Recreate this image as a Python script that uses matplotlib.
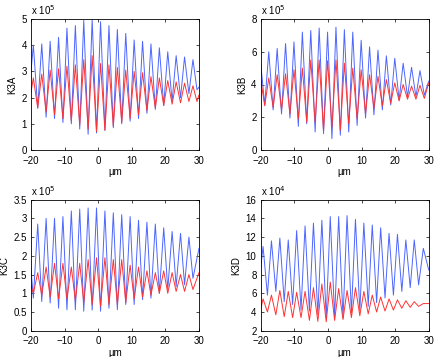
import numpy as np
import matplotlib.pyplot as plt

plt.rcParams['font.family'] = ['Liberation Sans', 'DejaVu Sans']
plt.rcParams['font.size'] = 7

# ---- extrema (x in um, y in units of 10^exp) ----
# K3A  (x 10^5)
a_peak_x = [-19.3, -16.8, -14.3, -11.8, -9.3, -6.8, -4.3, -1.8, 0.7, 3.2,
            5.7, 8.2, 10.7, 13.2, 15.7, 18.2, 20.7, 23.2, 25.7, 28.2]
a_trough_x = [-18.0, -15.5, -13.0, -10.5, -8.0, -5.5, -3.0, -0.5, 2.0, 4.5,
              7.0, 9.5, 12.0, 14.5, 17.0, 19.5, 22.0, 24.5, 27.0, 29.4]
a_blue_peak = [4.0, 4.05, 4.15, 4.3, 4.65, 4.75, 4.95, 4.98, 4.9, 4.75,
               4.6, 4.45, 4.2, 4.15, 4.05, 3.9, 3.75, 3.6, 3.55, 3.45]
a_blue_trough = [1.6, 1.25, 1.2, 1.05, 1.0, 0.8, 0.6, 0.65, 0.75, 0.85,
                 1.0, 1.1, 1.2, 1.4, 1.55, 1.7, 1.85, 2.0, 2.15, 2.3]
a_red_peak = [2.75, 2.9, 3.05, 3.1, 3.2, 3.25, 3.45, 3.6, 3.3, 3.25,
              3.15, 3.05, 3.0, 2.95, 2.8, 2.75, 2.65, 2.6, 2.55, 2.45]
a_red_trough = [1.6, 1.45, 1.35, 1.2, 1.1, 0.95, 0.8, 0.7, 0.75, 0.9,
                1.05, 1.2, 1.35, 1.5, 1.6, 1.7, 1.75, 1.8, 1.85, 1.85]
a_ends = {'blue': (3.0, 2.4), 'red': (2.2, 2.1)}

# K3B  (x 10^5)
b_peak_x = [-17.6, -15.1, -12.6, -10.1, -7.6, -5.1, -2.6, -0.1, 2.4, 4.9,
            7.4, 9.9, 12.4, 14.9, 17.4, 19.9, 22.4, 24.9, 27.4]
b_trough_x = [-18.8, -16.3, -13.8, -11.3, -8.8, -6.3, -3.8, -1.3, 1.2, 3.7,
              6.2, 8.7, 11.2, 13.7, 16.2, 18.7, 21.2, 23.7, 26.2, 28.7]
b_blue_peak = [6.0, 6.2, 6.5, 6.6, 7.2, 7.3, 7.45, 7.2, 7.5, 7.35,
               7.2, 6.7, 6.3, 6.1, 5.75, 5.6, 5.3, 5.05, 4.85]
b_blue_trough = [2.75, 2.45, 2.2, 1.95, 1.45, 1.6, 1.1, 1.0, 0.7, 0.9,
                 1.1, 1.5, 1.95, 2.15, 2.45, 2.75, 3.05, 3.25, 3.25, 3.35]
b_red_peak = [4.4, 4.6, 4.65, 4.9, 5.0, 5.5, 5.5, 5.45, 5.5, 5.3,
              5.0, 4.9, 4.6, 4.5, 4.3, 4.1, 4.0, 3.9, 3.95]
b_red_trough = [2.7, 2.6, 2.45, 2.2, 1.9, 1.7, 1.7, 1.15, 1.4, 1.2,
                1.6, 1.9, 2.2, 2.55, 2.7, 2.85, 3.0, 3.1, 3.1, 3.15]
b_ends = {'blue': (5.3, 4.2), 'red': (4.3, 4.1)}

# K3C  (x 10^5)
c_peak_x = [-18.0, -15.5, -13.0, -10.5, -8.0, -5.5, -3.0, -0.5, 2.0, 4.5,
            7.0, 9.5, 12.0, 14.5, 17.0, 19.5, 22.0, 24.5, 27.0]
c_trough_x = [-19.3, -16.8, -14.3, -11.8, -9.3, -6.8, -4.3, -1.8, 0.7, 3.2,
              5.7, 8.2, 10.7, 13.2, 15.7, 18.2, 20.7, 23.2, 25.7, 28.2]
c_blue_peak = [2.85, 3.0, 3.0, 3.05, 3.2, 3.25, 3.28, 3.28, 3.2, 3.15,
               3.1, 3.05, 2.95, 2.9, 2.85, 2.75, 2.65, 2.6, 2.5]
c_blue_trough = [0.87, 0.78, 0.74, 0.6, 0.56, 0.56, 0.52, 0.55, 0.52, 0.6,
                 0.56, 0.7, 0.7, 0.83, 0.87, 1.0, 1.1, 1.18, 1.23, 1.4]
c_red_peak = [1.55, 1.7, 1.8, 1.8, 1.7, 1.8, 1.9, 1.95, 1.95, 1.9,
              1.9, 1.75, 1.7, 1.6, 1.55, 1.6, 1.55, 1.5, 1.5]
c_red_trough = [1.0, 0.95, 0.9, 0.85, 0.85, 0.8, 0.75, 0.7, 0.65, 0.7,
                0.7, 0.75, 0.85, 0.9, 0.95, 1.0, 1.0, 1.05, 1.05, 1.1]
c_ends = {'blue': (1.65, 2.2), 'red': (1.2, 1.55)}

# K3D  (x 10^4)
d_peak_x = [-19.3, -16.8, -14.3, -11.8, -9.3, -6.8, -4.3, -1.8, 0.7, 3.2,
            5.7, 8.2, 10.7, 13.2, 15.7, 18.2, 20.7, 23.2, 25.7, 28.4]
d_trough_x = [-18.0, -15.5, -13.0, -10.5, -8.0, -5.5, -3.0, -0.5, 2.0, 4.5,
              7.0, 9.5, 12.0, 14.5, 17.0, 19.5, 22.0, 24.5, 27.0]
d_blue_peak = [11.0, 11.6, 11.9, 11.7, 12.7, 13.2, 13.5, 13.8, 14.2, 14.2,
               14.3, 13.9, 13.5, 13.3, 13.0, 12.4, 12.3, 11.7, 11.7, 10.8]
d_blue_trough = [5.8, 6.2, 5.1, 4.8, 4.2, 4.1, 3.7, 3.35, 3.5, 3.35,
                 3.9, 4.1, 4.6, 5.0, 5.5, 5.8, 6.2, 6.6, 6.9]
d_red_peak = [5.4, 5.8, 6.3, 6.2, 6.1, 6.2, 6.6, 7.0, 7.2, 6.5,
              6.3, 6.6, 6.2, 5.8, 5.6, 5.4, 5.3, 5.2, 5.1, 4.9]
d_red_trough = [4.0, 3.7, 3.5, 3.4, 3.4, 3.1, 3.0, 2.95, 3.1, 3.2,
                3.4, 3.6, 3.8, 4.0, 4.1, 4.2, 4.4, 4.5, 4.6]
d_ends = {'blue': (8.7, 8.5), 'red': (4.3, 4.9)}

panels = [
    ('K3A', 5, (0, 5), [0, 1, 2, 3, 4, 5], ['0', '1', '2', '3', '4', '5'],
     a_peak_x, a_trough_x, a_blue_peak, a_blue_trough, a_red_peak, a_red_trough, a_ends),
    ('K3B', 5, (0, 8), [0, 2, 4, 6, 8], ['0', '2', '4', '6', '8'],
     b_peak_x, b_trough_x, b_blue_peak, b_blue_trough, b_red_peak, b_red_trough, b_ends),
    ('K3C', 5, (0, 3.5), [0, 0.5, 1, 1.5, 2, 2.5, 3, 3.5],
     ['0', '0.5', '1', '1.5', '2', '2.5', '3', '3.5'],
     c_peak_x, c_trough_x, c_blue_peak, c_blue_trough, c_red_peak, c_red_trough, c_ends),
    ('K3D', 4, (2, 16), [2, 4, 6, 8, 10, 12, 14, 16],
     ['2', '4', '6', '8', '10', '12', '14', '16'],
     d_peak_x, d_trough_x, d_blue_peak, d_blue_trough, d_red_peak, d_red_trough, d_ends),
]

x_ticks = [-20, -10, 0, 10, 20, 30]
x_labels = ['\u221220', '\u221210', '0', '10', '20', '30']


def trace(peak_x, trough_x, peak, trough, ends):
    xs = np.array([-20] + list(peak_x) + list(trough_x) + [30], dtype=float)
    ys = np.array([ends[0]] + list(peak) + list(trough) + [ends[1]], dtype=float)
    order = np.argsort(xs)
    return xs[order], ys[order]


fig = plt.figure(figsize=(4.36, 3.57), dpi=100)
W, H = 436.0, 357.0
boxes = [(31, 19), (260.7, 19), (31, 199.7), (260.7, 199.7)]
aw, ah = 168.0, 131.0

for (name, exp, ylim, yt, ytl, px, tx, bp, bt, rp, rt, ends), (l, t) in zip(panels, boxes):
    ax = fig.add_axes([l / W, 1 - (t + ah) / H, aw / W, ah / H])
    xb, yb = trace(px, tx, bp, bt, ends['blue'])
    xr, yr = trace(px, tx, rp, rt, ends['red'])
    ax.plot(xb, yb, color=(0.3, 0.4, 1.0), lw=0.7)
    ax.plot(xr, yr, color=(1.0, 0.2, 0.2), lw=0.7)
    ax.set_xlim(-20, 30)
    ax.set_ylim(*ylim)
    ax.set_xticks(x_ticks)
    ax.set_xticklabels(x_labels)
    ax.set_yticks(yt)
    ax.set_yticklabels(ytl)
    ax.tick_params(direction='in', length=2.5, width=0.5, top=True, right=True)
    ax.tick_params(axis='x', pad=4)
    ax.tick_params(axis='y', pad=3)
    for s in ax.spines.values():
        s.set_linewidth(0.6)
    ax.set_xlabel('\u00b5m', labelpad=1)
    ax.set_ylabel(name, labelpad=3)
    ax.text(0.0, 1.015, 'x 10$^{%d}$' % exp, transform=ax.transAxes,
            ha='left', va='bottom', fontsize=7)

fig.savefig('out.png', dpi=100)
